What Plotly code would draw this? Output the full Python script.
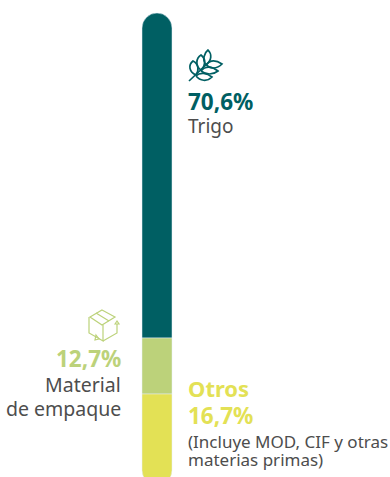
import plotly.graph_objects as go

# Segment lengths as measured on the picture (in the picture's % scale);
# the printed labels are kept separately, as in the reference.
categories = ["Trigo", "Material de empaque", "Otros"]
segment_lengths = [70.6, 12.17, 19.8]
colors = ["#005f63", "#bcd27a", "#e3e155"]
TEXT = "#4d4d4d"
FONT = "Noto Sans"
W, H = 390, 477

fig = go.Figure()
# positive stack for the top part, negative for the lower parts: rounds both outer ends
fig.add_bar(x=[0], y=[segment_lengths[0]], marker_color=colors[0], width=1, name=categories[0])
fig.add_bar(x=[0], y=[-segment_lengths[1]], marker_color=colors[1], width=1, name=categories[1])
fig.add_bar(x=[0], y=[-segment_lengths[2]], marker_color=colors[2], width=1, name=categories[2])

def px(x): return x / W
def py(y): return 1 - y / H

def label(x, y, text, size, color, bold=False, anchor="left"):
    fig.add_annotation(xref="paper", yref="paper", x=px(x), y=py(y), text=f"<b>{text}</b>" if bold else text,
                       showarrow=False, xanchor=anchor, yanchor="middle", align=anchor,
                       font=dict(family=FONT, size=size, color=color),
                       borderpad=0, borderwidth=0)

label(188, 102, "70,6%", 22.5, colors[0], True)
label(188, 126, "Trigo", 19, TEXT)
label(121, 358, "12,7%", 22.5, colors[1], True, "right")
label(121, 384, "Material", 19.5, TEXT, anchor="right")
label(121, 408, "de empaque", 19.5, TEXT, anchor="right")
label(188, 388, "Otros", 22, colors[2], True)
label(188, 415, "16,7%", 22.5, colors[2], True)
label(188, 441, "(Incluye MOD, CIF y otras", 17, TEXT)
label(188, 459, "materias primas)", 17, TEXT)

def icon(path, color, width):
    out = []
    for t in path.split():
        if "," in t:
            a, b = t.split(",")
            out.append(f"{px(float(a)):.5f},{py(float(b)):.5f}")
        else:
            out.append(t)
    fig.add_shape(type="path", xref="paper", yref="paper", path=" ".join(out),
                  line=dict(color=color, width=width), fillcolor="rgba(0,0,0,0)")

wheat = [
    "M 189,81 L 207,64",
    "M 196,75 C 189,72 188,65 193,61 C 199,64 199,71 196,75",
    "M 201,70 C 195,66 196,58 201,55 C 206,59 206,65 201,70",
    "M 206,65 C 202,60 204,53 208,50 C 212,54 212,60 206,65",
    "M 196,76 C 200,72 207,73 212,77 C 207,82 200,81 196,76",
    "M 201,71 C 205,66 212,66 218,71 C 213,75 206,75 201,71",
    "M 206,65 C 210,60 216,60 222,64 C 217,69 211,69 206,65",
]
for p in wheat:
    icon(p, colors[0], 1.7)

box = [
    "M 102,310 L 115,317 L 102,325 L 90,317 Z",
    "M 96,313 L 109,321",
    "M 89,317 L 89,333 L 98,338",
    "M 103,325 L 103,341 L 98,338",
    "M 103,341 L 117,333 L 117,324",
    "M 115,324 L 117,321 L 119,324 Z",
    "M 96,335 L 99,339 L 95,340 Z",
]
for p in box:
    icon(p, colors[1], 1.2)

fig.update_layout(
    width=W, height=H, margin=dict(l=0, r=0, t=0, b=0), showlegend=False,
    plot_bgcolor="white", paper_bgcolor="white",
    barmode="relative", barcornerradius=15,
    xaxis=dict(visible=False, range=[-157 / 30, (W - 157) / 30]),
    yaxis=dict(visible=False, range=[-(477 - 338) / 4.603, 338 / 4.603]),
)
fig.write_html("out.html", config=dict(displayModeBar=False),
               post_script="document.body.style.margin='0';document.body.style.overflow='hidden';")
